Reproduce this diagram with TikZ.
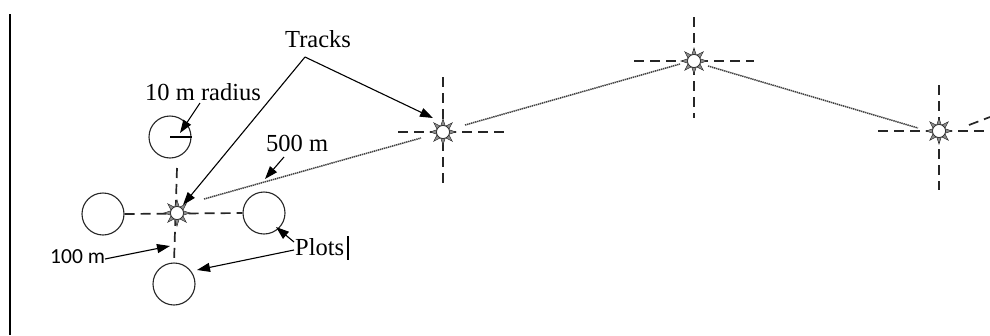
\documentclass[tikz,border=0pt]{standalone}
\usepackage{fontspec}
\setmainfont{Liberation Serif}
\newfontfamily\labelsans{Carlito}
\usetikzlibrary{arrows.meta}

\tikzset{
  plot/.style={circle, draw=black!85, line width=1.1pt, minimum size=42pt, inner sep=0pt},
  crossline/.style={draw=black!85, line width=1.7pt, dash pattern=on 10pt off 6pt},
  trackline/.style={draw=black!75, line width=1.5pt, dash pattern=on 1.4pt off 0.7pt},
  callout/.style={draw=black, line width=1.1pt, -{Triangle[length=13pt,width=9pt]}},
  lbl/.style={inner sep=0pt, anchor=base west, font=\fontsize{24.5}{27}\selectfont},
  sunmark/.pic={
    \foreach \a in {0,45,...,315}
      \filldraw[fill=black!45, draw=black!85, line width=0.5pt]
        (\a-20:6.5) -- (\a:13) -- (\a+20:6.5) -- cycle;
    \filldraw[fill=white, draw=black!85, line width=0.7pt] (0,0) circle (6.5);
  }
}

\begin{document}
\begin{tikzpicture}[x=1pt, y=-1pt]
  \useasboundingbox (0,0) rectangle (990,335);

  % page margin rule
  \draw[line width=1.3pt] (10,14) -- (10,335);

  % station centres
  \coordinate (s1) at (177,213);
  \coordinate (s2) at (443,132);
  \coordinate (s3) at (694,61);
  \coordinate (s4) at (939,131);

  % plots around the first station
  \node[plot] (ptop)   at (170,137) {};
  \node[plot] (pleft)  at (103,214) {};
  \node[plot] (pright) at (264,213) {};
  \node[plot] (pbot)   at (174,284) {};
  \draw[line width=1.1pt] (ptop.center) -- (ptop.east);

  % dashed crosses
  \draw[crossline] (pleft.east) -- (pright.west);
  \draw[crossline] (177,168) -- (pbot.north);
  \draw[crossline] (398,132) -- (505,132);
  \draw[crossline] (443,77) -- (443,183);
  \draw[crossline] (634,61) -- (754,61);
  \draw[crossline] (694,17) -- (694,118);
  \draw[crossline] (878,131) -- (990,131);
  \draw[crossline] (939,85) -- (939,190);
  \coordinate (s4ne) at (990,117);
  \draw[crossline] (969,125) -- (s4ne);

  % dotted tracks between stations
  \coordinate (t1a) at (204,199);
  \coordinate (t1b) at (421,138);
  \coordinate (t2a) at (465,125);
  \coordinate (t2b) at (680,64);
  \coordinate (t3a) at (708,66);
  \coordinate (t3b) at (918,128);
  \draw[trackline] (t1a) -- (t1b);
  \draw[trackline] (t2a) -- (t2b);
  \draw[trackline] (t3a) -- (t3b);

  % station markers
  \foreach \s in {s1,s2,s3,s4} \pic at (\s) {sunmark};

  % labels
  \node[lbl] (tracks) at (285,47) {Tracks};
  \node[lbl] (radius) at (145,100) {10 m radius};
  \node[lbl] (dist)   at (266,151) {500 m};
  \node[lbl] (plots)  at (295,255) {Plots};
  \node[lbl, font=\labelsans\fontsize{21.5}{24}\selectfont] (spacing) at (50,263) {100 m};
  \draw[line width=1.6pt] (348,236) -- (348,260);

  % callout arrows
  \coordinate (tk) at (305,57);
  \draw[callout] (tk) -- (433,118);
  \draw[callout] (tk) -- (183,205);
  \draw[callout] (200,103) -- (180,133);
  \draw[callout] (284,157) -- (265,179);
  \draw[callout] (294,242) -- (276,227);
  \draw[callout] (294,250) -- (197,270);
  \draw[callout] (105,259) -- (170,246);
\end{tikzpicture}
\end{document}
